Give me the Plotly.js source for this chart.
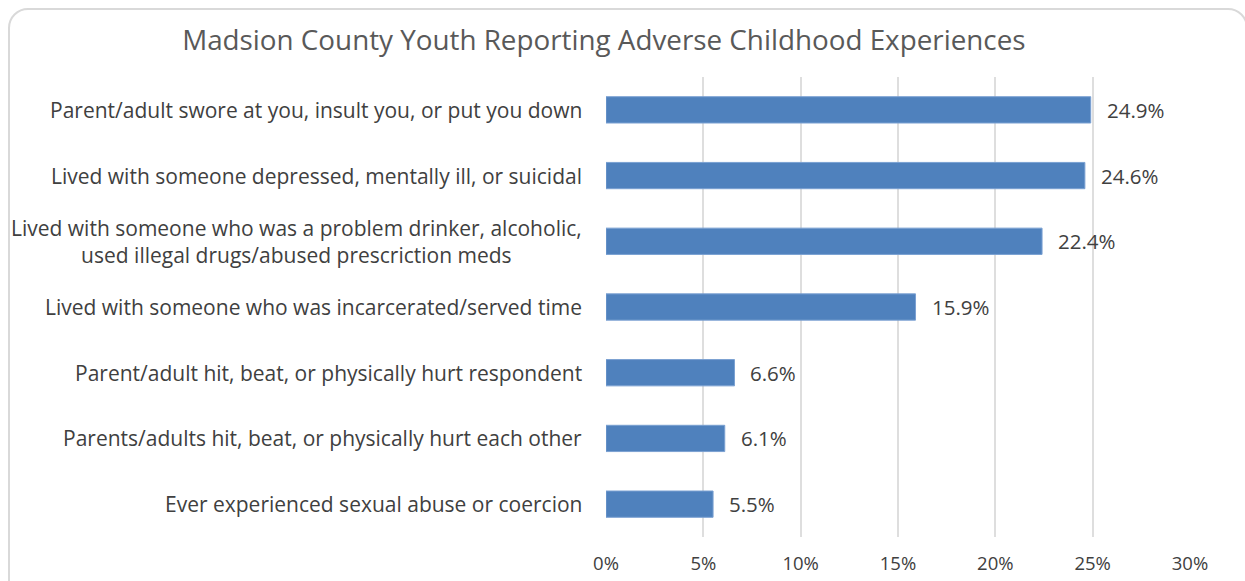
<!DOCTYPE html>
<html>
<head>
<meta charset="utf-8">
<script src="https://cdn.plot.ly/plotly-3.0.1.min.js"></script>
<style>
html,body{margin:0;padding:0;width:1245px;height:581px;overflow:hidden;background:#fff;}
#frame{position:absolute;left:8px;top:8px;width:1240px;height:640px;border:2px solid #d9d9d9;border-radius:20px;box-sizing:border-box;}
#chart{position:absolute;left:0;top:0;width:1245px;height:581px;}
</style>
</head>
<body>
<div id="frame"></div>
<div id="chart"></div>
<script>
const categories = [
  "Parent/adult swore at you, insult you, or put you down",
  "Lived with someone depressed, mentally ill, or suicidal",
  "Lived with someone who was a problem drinker, alcoholic,<br>used illegal drugs/abused prescriction meds",
  "Lived with someone who was incarcerated/served time",
  "Parent/adult hit, beat, or physically hurt respondent",
  "Parents/adults hit, beat, or physically hurt each other",
  "Ever experienced sexual abuse or coercion"
];
const values = [24.9, 24.6, 22.4, 15.9, 6.6, 6.1, 5.5];
const valueLabels = ["24.9%", "24.6%", "22.4%", "15.9%", "6.6%", "6.1%", "5.5%"];
const tickVals = [0, 5, 10, 15, 20, 25, 30];
const tickText = ["0%", "5%", "10%", "15%", "20%", "25%", "30%"];
const chartTitle = "Madsion County Youth Reporting Adverse Childhood Experiences";

const FONT = "'Open Sans', sans-serif";
const TXT = "#404040";

const trace = {
  type: "bar",
  orientation: "h",
  x: values,
  y: categories,
  marker: {color: "#4f81bd", line: {color: "#7aa0d2", width: 1}},
  hoverinfo: "none"
};

const annotations = [];
categories.forEach((c, i) => {
  annotations.push({
    xref: "paper", yref: "y", x: 0, y: c, text: c,
    xanchor: "right", yanchor: "middle", align: "center", xshift: -22,
    showarrow: false, font: {family: FONT, size: 21, color: TXT}
  });
  annotations.push({
    xref: "x", yref: "y", x: values[i], y: c, text: valueLabels[i],
    xanchor: "left", yanchor: "middle", xshift: 14,
    showarrow: false, font: {family: FONT, size: 20.5, color: TXT}
  });
});

const layout = {
  width: 1245, height: 581,
  paper_bgcolor: "rgba(0,0,0,0)", plot_bgcolor: "rgba(0,0,0,0)",
  margin: {l: 606, r: 55, t: 77, b: 44, pad: 0},
  title: {text: chartTitle, x: 0.485, xanchor: "center", y: 0.93, yanchor: "middle",
          font: {family: FONT, size: 27.8, color: "#595959"}},
  showlegend: false,
  bargap: 0.6,
  xaxis: {range: [0, 30], tickvals: tickVals, ticktext: tickText, showgrid: true,
          gridcolor: "#dedede", gridwidth: 2, zeroline: false, showline: false,
          ticks: "", ticklabelstandoff: 13,
          tickfont: {family: FONT, size: 18.5, color: TXT}, fixedrange: true},
  yaxis: {autorange: "reversed", showticklabels: false, showgrid: false, zeroline: false,
          showline: false, ticks: "", fixedrange: true},
  annotations: annotations
};

Plotly.newPlot("chart", [trace], layout, {displayModeBar: false, staticPlot: true});
</script>
</body>
</html>
